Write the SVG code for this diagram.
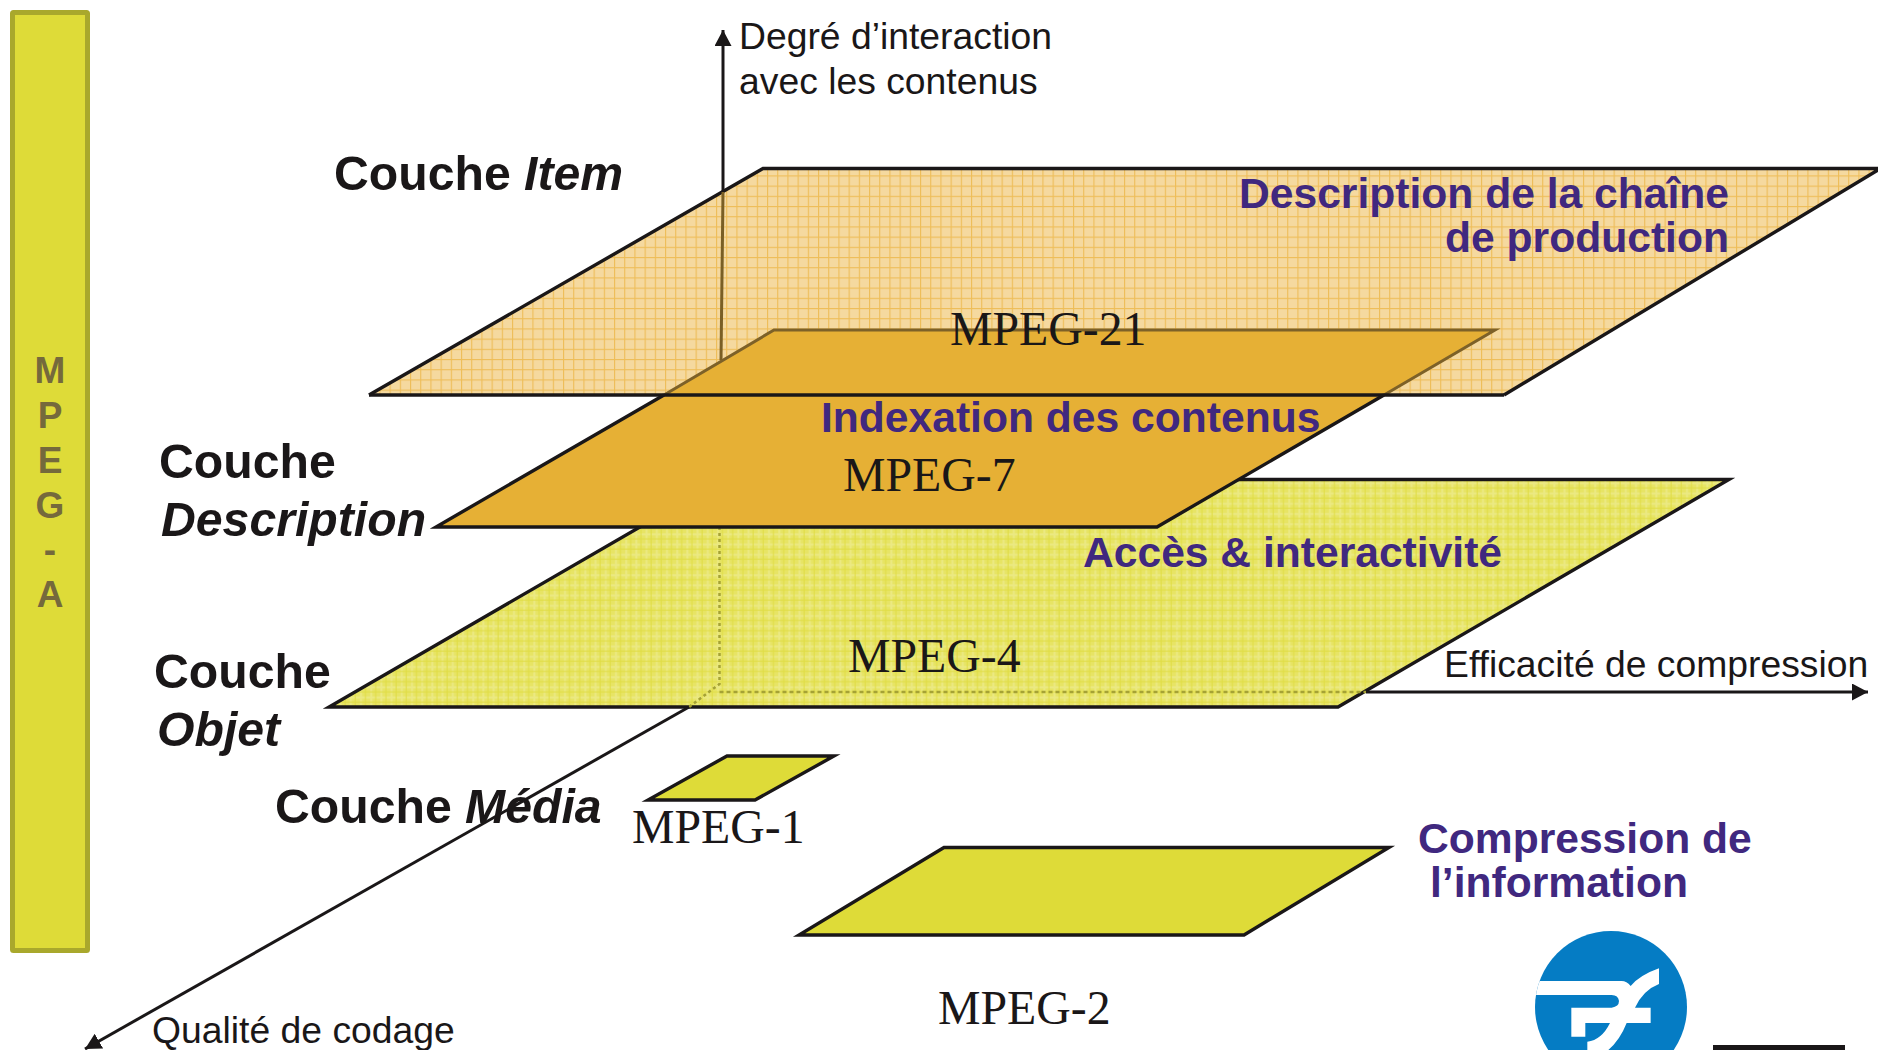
<svg xmlns="http://www.w3.org/2000/svg" width="1878" height="1050" viewBox="0 0 1878 1050">
<style>
.ar{font-family:"Liberation Sans",Arial,sans-serif;fill:#1a1718}
.ax{font-size:37.3px}
.co{font-size:48.2px;font-weight:bold}
.bl{font-family:"Liberation Sans",Arial,sans-serif;font-size:42.6px;font-weight:bold;fill:#40287f}
.mp{font-family:"Liberation Serif","Times New Roman",serif;font-size:47.8px;fill:#1a1718}
.pl{stroke:#1a1718;stroke-width:3.4;stroke-linejoin:miter}
.ln{stroke:#1a1718;stroke-width:3;fill:none}
.ma{font-family:"Liberation Sans",Arial,sans-serif;font-size:37px;font-weight:bold;fill:#75693c;text-anchor:middle}
</style>
<defs>
<pattern id="po" width="10.2" height="10.2" patternUnits="userSpaceOnUse" x="2" y="2">
<rect width="10.2" height="10.2" fill="#f5d99f"/>
<rect x="0" width="1.1" height="10.2" fill="#eebd58"/>
<rect y="0" width="10.2" height="1.1" fill="#eebd58"/>
</pattern>
<pattern id="py" width="10.2" height="10.2" patternUnits="userSpaceOnUse">
<rect width="10.2" height="10.2" fill="#e7e465"/>
<rect x="3" width="2" height="10.2" fill="#ebe982"/>
<rect y="3" width="10.2" height="2" fill="#ebe982"/>
<rect x="8" width="1" height="10.2" fill="#e0dd45"/>
<rect y="8" width="10.2" height="1" fill="#e0dd45"/>
</pattern>
<marker id="ah" markerUnits="userSpaceOnUse" markerWidth="17" markerHeight="17" refX="16" refY="8.500" orient="auto"><path d="M0 0L16 8.500L0 17Z" fill="#1a1718"/></marker>
<clipPath id="lc"><circle cx="1611" cy="1007" r="76"/></clipPath>
</defs>
<g id="bar">
<rect x="12.5" y="12.5" width="75" height="938" rx="1" fill="#dedb38" stroke="#a9a82c" stroke-width="5"/>
<text class="ma" x="50" y="383">M</text>
<text class="ma" x="50" y="428">P</text>
<text class="ma" x="50" y="473">E</text>
<text class="ma" x="50" y="518">G</text>
<text class="ma" x="50" y="562">-</text>
<text class="ma" x="50" y="607">A</text>
</g>
<g id="plane-item">
<path d="M763 168.500H1878V170L1504 395H369Z" fill="url(#po)"/>
<path d="M369 395L763 168.500H1878M1878 170L1504 395" class="pl" fill="none"/>
</g>
<g id="plane-objet">
<path class="pl" d="M722 479.500H1729L1338 707H329Z" fill="url(#py)"/>
</g>
<g id="connectors">
<path class="ln" d="M723 192V30" marker-end="url(#ah)"/>
<path d="M723 192L721 360" stroke="#7a5f25" stroke-width="3" fill="none"/>
<path d="M719.500 527L719.500 684L689 707" stroke="#a5a235" stroke-width="2.500" stroke-dasharray="3 3" fill="none"/>
<path d="M719.500 692H1366" stroke="#a5a235" stroke-width="2.500" stroke-dasharray="4 3" fill="none"/>
<path class="ln" d="M1366 692H1868" marker-end="url(#ah)"/>
<path class="ln" d="M689 707L85 1049" marker-end="url(#ah)"/>
</g>
<g id="plane-description">
<path d="M774 330H1495L1157 527H436Z" fill="#e6b035"/>
<path d="M664 395L774 330H1495L1384 395" fill="none" stroke="#7d6128" stroke-width="3"/>
<path d="M664 395L436 527H1157L1384 395" fill="none" stroke="#1a1718" stroke-width="3.400"/>
<path d="M369 395H1504" stroke="#1a1718" stroke-width="3.400"/>
</g>
<g id="plane-mpeg1"><path class="pl" d="M727 756H834L755 800H648Z" fill="#dedb38"/></g>
<g id="plane-mpeg2"><path class="pl" d="M944 847.500H1389L1244 935H799Z" fill="#dedb38"/></g>
<g id="logo">
<circle cx="1611" cy="1007" r="76" fill="#057cc4"/>
<g clip-path="url(#lc)"><path transform="translate(1480 900) scale(.3333)" fill="#fff" d="M150 243H425Q440 243 452 258Q480 225 537 205V252Q490 270 465 323H512V369H440Q420 420 385 450H322V425Q365 420 390 369H316V410H274V323H395Q417 320 417 303Q415 285 395 285H150Z"/></g>
<rect x="1713" y="1045" width="132" height="5" fill="#1a1718"/>
</g>
<g id="labels">
<text class="ar ax" x="739" y="49">Degré d’interaction</text>
<text class="ar ax" x="739" y="94">avec les contenus</text>
<text class="ar ax" x="1444" y="677">Efficacité de compression</text>
<text class="ar ax" x="152" y="1043">Qualité de codage</text>
<text class="ar co" x="334" y="190">Couche <tspan font-style="italic">Item</tspan></text>
<text class="ar co" x="159" y="478">Couche</text>
<text class="ar co" x="161" y="536" font-style="italic">Description</text>
<text class="ar co" x="154" y="688">Couche</text>
<text class="ar co" x="157" y="746" font-style="italic">Objet</text>
<text class="ar co" x="275" y="823">Couche <tspan font-style="italic">Média</tspan></text>
<text class="bl" x="1729" y="208" text-anchor="end">Description de la chaîne</text>
<text class="bl" x="1729" y="252" text-anchor="end">de production</text>
<text class="bl" x="821" y="432">Indexation des contenus</text>
<text class="bl" x="1083" y="567">Accès &amp; interactivité</text>
<text class="bl" x="1418" y="853">Compression de</text>
<text class="bl" x="1430" y="897">l’information</text>
<text class="mp" x="950" y="345">MPEG-21</text>
<text class="mp" x="843" y="491">MPEG-7</text>
<text class="mp" x="848" y="672">MPEG-4</text>
<text class="mp" x="632" y="843">MPEG-1</text>
<text class="mp" x="938" y="1024">MPEG-2</text>
</g>
</svg>
